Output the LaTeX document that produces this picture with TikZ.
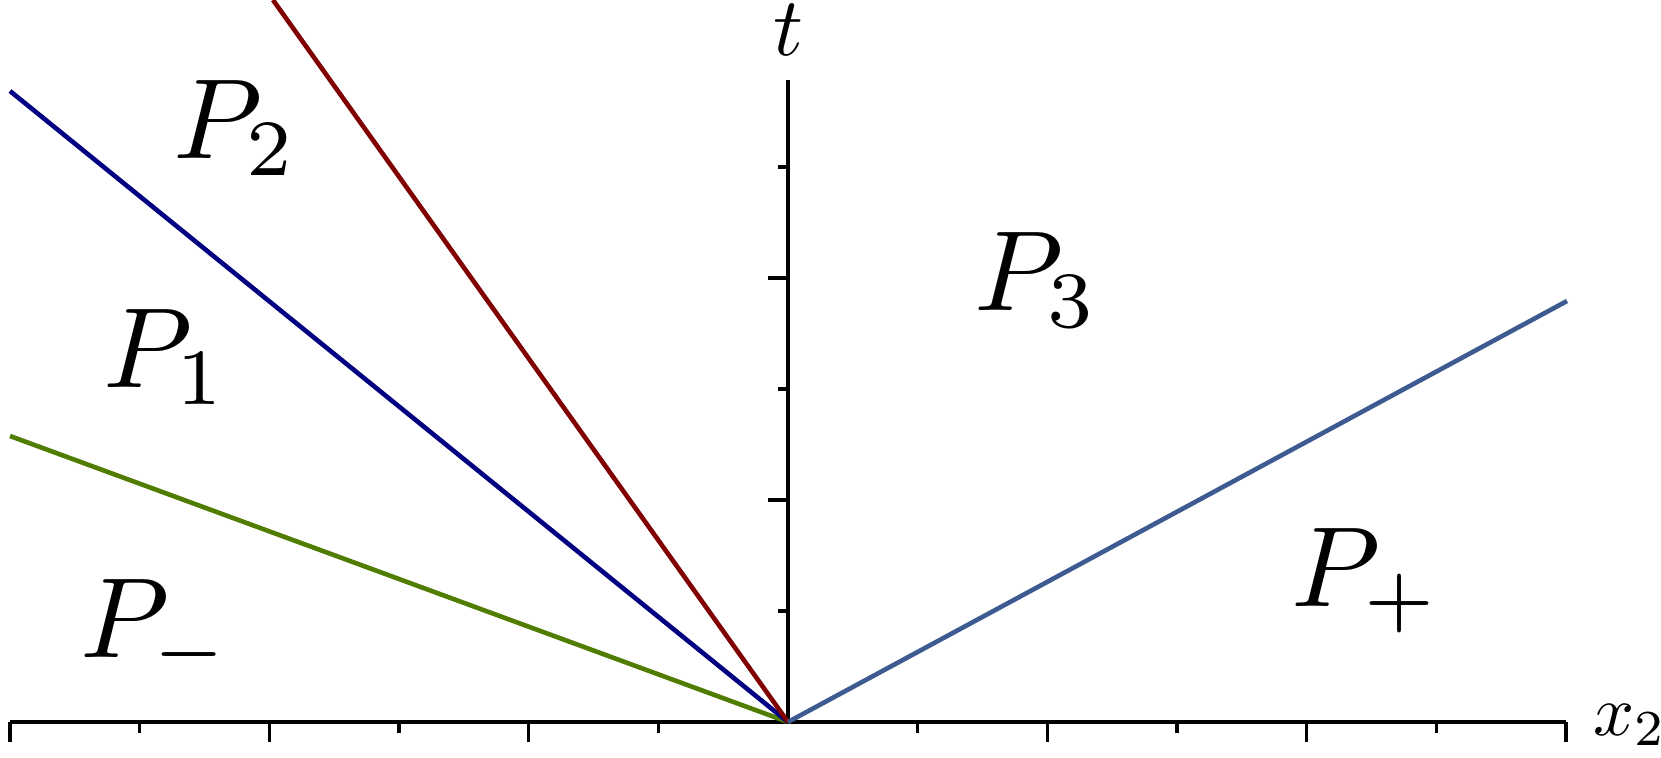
\documentclass[tikz,border=0pt]{standalone}
\definecolor{lgreen}{RGB}{80,125,0}
\definecolor{lnavy}{RGB}{0,0,128}
\definecolor{lred}{RGB}{128,0,0}
\definecolor{lsteel}{RGB}{62,91,145}
\begin{document}
\begin{tikzpicture}[x=0.5pt,y=-0.5pt,
  axisline/.style={line width=1.7pt,black},
  tickline/.style={line width=1.7pt,black},
  ray/.style={line width=2.3pt},
  region/.style={anchor=base west,inner sep=0pt,scale=5.7},
  axlabel/.style={inner sep=0pt,scale=4.15}]
\useasboundingbox (0,0) rectangle (1661,757);
% coordinates
\coordinate (O) at (788,722);
\coordinate (xl) at (10,722);
\coordinate (xr) at (1566,722);
\coordinate (ty) at (788,80);
\coordinate (eg) at (10,436);
\coordinate (en) at (10,91);
\coordinate (er) at (273,0);
\coordinate (es) at (1567,301);
% axes
\draw[axisline] (xl) -- (xr);
\draw[axisline] (O) -- (ty);
\foreach \i in {0,2,4,8,10,12}{
  \draw[tickline] ({10+129.67*\i},722) -- ++(0,20);}
\foreach \i in {1,3,5,7,9,11}{
  \draw[tickline] ({10+129.67*\i},722) -- ++(0,11);}
\foreach \k in {1,3,5}{
  \draw[tickline] (788,{722-111*\k}) -- ++(-10,0);}
\foreach \k in {2,4}{
  \draw[tickline] (788,{722-111*\k}) -- ++(-20,0);}
% rays
\begin{scope}
\clip (0,0) rectangle (1661,757);
\draw[ray,lgreen] (O) -- (eg);
\draw[ray,lnavy] (O) -- (en);
\draw[ray,lred] (O) -- (er);
\draw[ray,lsteel] (O) -- (es);
\end{scope}
% labels
\node[axlabel,anchor=base] (tl) at (788,55) {$t$};
\node[inner sep=0pt,scale=3.6,anchor=base west] (xlab) at (1592,735) {$x_2$};
\node[region] (p2) at (171,158) {$P_2$};
\node[region] (p1) at (101,387) {$P_1$};
\node[region] (p3) at (972,310) {$P_3$};
\node[region] (pm) at (78,657) {$P_-$};
\node[region] (pp) at (1289,606) {$P_+$};
\end{tikzpicture}
\end{document}
